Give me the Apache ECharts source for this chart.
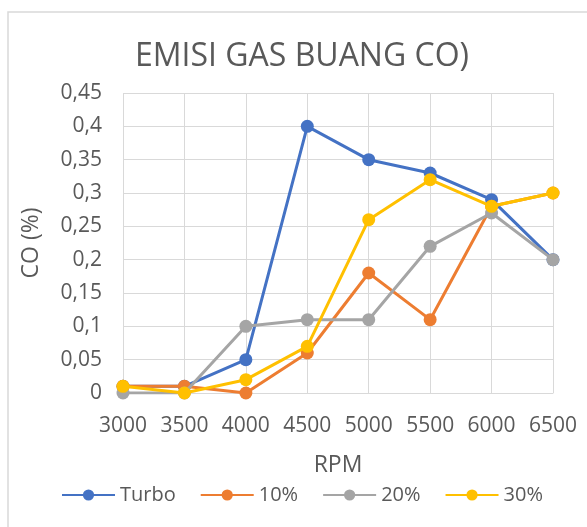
<!DOCTYPE html>
<html>
<head>
<meta charset="utf-8">
<script src="https://cdn.jsdelivr.net/npm/echarts@6/dist/echarts.min.js"></script>
<style>
  html, body { margin: 0; padding: 0; background: #fff; }
  #chart { width: 587px; height: 527px; }
</style>
</head>
<body>
<div id="chart"></div>
<script>
// Engine speed (RPM) and CO emission readings (%)
const rpm = ['3000', '3500', '4000', '4500', '5000', '5500', '6000', '6500'];
const turbo = [0.01, 0.01, 0.05, 0.40, 0.35, 0.33, 0.29, 0.20];
const mix10 = [0.01, 0.01, 0.00, 0.06, 0.18, 0.11, 0.28, 0.30];
const mix20 = [0.00, 0.00, 0.10, 0.11, 0.11, 0.22, 0.27, 0.20];
const mix30 = [0.01, 0.00, 0.02, 0.07, 0.26, 0.32, 0.28, 0.30];

const seriesNames = ['Turbo', '10%', '20%', '30%'];
const seriesColors = ['#4472C4', '#ED7D31', '#A5A5A5', '#FFC000'];
const seriesData = [turbo, mix10, mix20, mix30];

const textColor = '#595959';
const gridColor = '#D9D9D9';
const fontFamily = 'Open Sans, Liberation Sans, sans-serif';

const chart = echarts.init(document.getElementById('chart'), null, { renderer: 'canvas' });

chart.setOption({
  animation: false,
  backgroundColor: '#fff',
  textStyle: { fontFamily: fontFamily, color: textColor },
  title: {
    text: 'EMISI GAS BUANG CO)',
    left: 297,
    textAlign: 'center',
    top: 36,
    textStyle: { fontSize: 32, fontWeight: 'normal', color: textColor, fontFamily: fontFamily }
  },
  // chart-area frame
  graphic: [{
    type: 'rect',
    shape: { x: 8, y: 12, width: 700, height: 700 },
    style: { fill: 'none', stroke: gridColor, lineWidth: 1.5 },
    silent: true
  }],
  grid: { left: 123, right: 34, top: 93, bottom: 134 },
  legend: {
    top: 480,
    left: 56,
    itemWidth: 53,
    itemHeight: 14,
    itemGap: 24,
    textStyle: { fontSize: 20, color: textColor, fontFamily: fontFamily },
    data: seriesNames
  },
  xAxis: {
    type: 'category',
    data: rpm,
    boundaryGap: false,
    name: 'RPM',
    nameLocation: 'middle',
    nameGap: 61,
    nameTextStyle: { fontSize: 23, color: textColor },
    axisLine: { show: true, lineStyle: { color: gridColor } },
    axisTick: { show: false },
    axisLabel: { fontSize: 21, color: textColor, margin: 23, interval: 0, hideOverlap: false },
    splitLine: { show: true, interval: 0, lineStyle: { color: gridColor, width: 1 } }
  },
  yAxis: {
    type: 'value',
    min: 0,
    max: 0.45,
    interval: 0.05,
    name: 'CO (%)',
    nameLocation: 'middle',
    nameGap: 80,
    nameRotate: 90,
    nameTextStyle: { fontSize: 23, color: textColor },
    axisLine: { show: false },
    axisTick: { show: false },
    axisLabel: {
      fontSize: 21,
      color: textColor,
      margin: 21,
      formatter: v => String(Math.round(v * 100) / 100).replace('.', ',')
    },
    splitLine: { show: true, lineStyle: { color: gridColor, width: 1 } }
  },
  series: seriesNames.map((name, i) => ({
    name: name,
    type: 'line',
    data: seriesData[i],
    color: seriesColors[i],
    symbol: 'circle',
    symbolSize: 13,
    lineStyle: { width: 3, color: seriesColors[i] },
    itemStyle: { color: seriesColors[i] },
    z: 2 + i
  }))
});
</script>
</body>
</html>
